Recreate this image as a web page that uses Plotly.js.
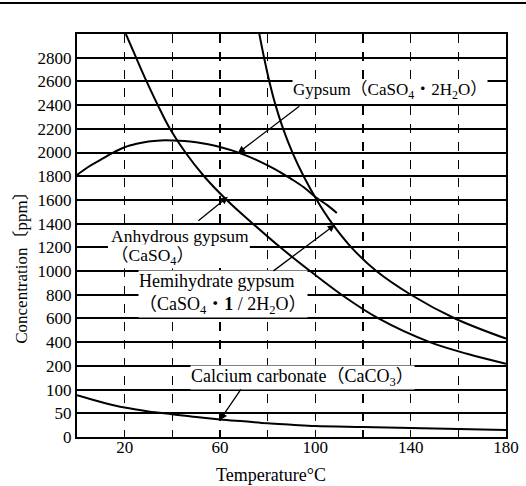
<!DOCTYPE html>
<html>
<head>
<meta charset="utf-8">
<script src="https://cdn.plot.ly/plotly-3.0.1.min.js"></script>
<style>html,body{margin:0;padding:0;background:#fff;}</style>
</head>
<body>
<div id="chart" style="width:526px;height:486px;"></div>
<script>
// ---- data (temperature °C, concentration ppm) ----
const gypsumT   = [0, 5, 10, 15, 20, 25, 30, 35, 40, 45, 50, 55, 60, 65, 70, 75, 80, 85, 90, 95, 100, 105, 109];
const gypsumPpm = [1810, 1882, 1940, 1998, 2045, 2074, 2094, 2102, 2102, 2098, 2087, 2070, 2047, 2018, 1982, 1940, 1891, 1837, 1776, 1709, 1625, 1556, 1490];

const anhydT   = [20.5, 24.8, 29.2, 33.9, 39.0, 45.5, 53.3, 62.8, 73.8, 85.3, 97.8, 111, 126.5, 148, 164, 180];
const anhydPpm = [3000, 2800, 2600, 2400, 2200, 2000, 1800, 1600, 1400, 1200, 1000, 800, 600, 400, 300, 218];

const hemiT   = [76.5, 78.5, 80.7, 83.3, 86.5, 90.4, 95.1, 100.6, 107.1, 115.1, 125.6, 140.1, 158.6, 180];
const hemiPpm = [3000, 2800, 2600, 2400, 2200, 2000, 1800, 1600, 1400, 1200, 1000, 800, 600, 430];

const caco3T   = [0, 10, 20, 30, 40, 50, 60, 70, 80, 90, 100, 120, 140, 160, 180];
const caco3Ppm = [88, 74, 62, 54, 48, 42, 37, 33, 29, 26, 23, 21, 19, 17, 15];

const yTickPpm = [0, 50, 100, 200, 400, 600, 800, 1000, 1200, 1400, 1600, 1800, 2000, 2200, 2400, 2600, 2800];

// piecewise scale of the printed axis: 0-50-100-200 then 200 per step
function toIdx(v) {
  if (v <= 50) return v / 50;
  if (v <= 100) return 1 + (v - 50) / 50;
  if (v <= 200) return 2 + (v - 100) / 100;
  return 3 + (v - 200) / 200;
}

const FONT = "'Liberation Serif', 'Times New Roman', 'Noto Sans CJK JP', serif";
const lineStyle = {color: '#000', width: 2, shape: 'spline', smoothing: 1};

function trace(t, p) {
  return {x: t, y: p.map(toIdx), mode: 'lines', line: lineStyle, hoverinfo: 'skip', showlegend: false};
}

const data = [
  trace(gypsumT, gypsumPpm),
  trace(anhydT, anhydPpm),
  trace(hemiT, hemiPpm),
  trace(caco3T, caco3Ppm)
];

function label(x, y, text, xanchor, size) {
  return {x: x, y: y, xref: 'x', yref: 'y', text: text, showarrow: false,
          xanchor: xanchor || 'center', yanchor: 'middle', align: 'left',
          bgcolor: '#fff', borderpad: 0,
          font: {family: FONT, size: size || 18, color: '#000'}};
}
function arrow(hx, hy, tx, ty) {
  return {x: hx, y: hy, ax: tx, ay: ty, xref: 'x', yref: 'y', axref: 'x', ayref: 'y',
          text: '', showarrow: true, arrowhead: 2, arrowsize: 1.1, arrowwidth: 1.3,
          arrowcolor: '#000', standoff: 0, startstandoff: 0};
}

const layout = {
  width: 526, height: 486,
  margin: {l: 77, r: 20, t: 34, b: 49},
  paper_bgcolor: '#fff', plot_bgcolor: '#fff',
  font: {family: FONT, size: 17, color: '#000'},
  xaxis: {
    range: [0, 180], tick0: 20, dtick: 40,
    showgrid: true, gridcolor: '#000', gridwidth: 1.2, griddash: 'dash',
    minor: {tick0: 0, dtick: 20, showgrid: true, gridcolor: '#000', gridwidth: 1.2, griddash: 'dash', ticks: ''},
    showline: true, linecolor: '#000', linewidth: 2, mirror: true,
    zeroline: false, ticks: '', ticklabelstandoff: -6,
    tickfont: {family: FONT, size: 17, color: '#000'}
  },
  yaxis: {
    range: [0, 17], tickvals: yTickPpm.map(toIdx), ticktext: yTickPpm.map(String),
    showgrid: true, gridcolor: '#000', gridwidth: 2,
    showline: true, linecolor: '#000', linewidth: 2, mirror: true,
    zeroline: false, ticks: '',
    tickfont: {family: FONT, size: 17, color: '#000'}
  },
  shapes: [
    {type: 'line', xref: 'paper', yref: 'paper', x0: -0.18, x1: 1.05, y0: 1.077, y1: 1.077,
     line: {color: '#000', width: 2}},
    // white backing behind the two-line "Anhydrous gypsum" label
    {type: 'rect', xref: 'x', yref: 'y', x0: 13, x1: 72.5, y0: 7.15, y1: 8.93, layer: 'above',
     fillcolor: '#fff', line: {width: 0}}
  ],
  annotations: [
    {xref: 'paper', yref: 'paper', x: -0.128, y: 0.43, text: 'Concentration〔ppm〕', textangle: -90,
     showarrow: false, xanchor: 'center', yanchor: 'middle',
     font: {family: FONT, size: 17, color: '#000'}},
    {xref: 'paper', yref: 'paper', x: 0.452, y: -0.094, text: 'Temperature°C',
     showarrow: false, xanchor: 'center', yanchor: 'middle',
     font: {family: FONT, size: 18, color: '#000'}},
    label(131.5, 14.6, 'Gypsum（CaSO<sub>4</sub>・2H<sub>2</sub>O）', 'center', 17),
    arrow(67.5, 11.98, 93.9, 14.0),
    label(13.8, 8.46, 'Anhydrous gypsum', 'left', 17.5),
    label(13.8, 7.6, '（CaSO<sub>4</sub>）', 'left', 17.5),
    arrow(63.3, 10.13, 50.3, 9.07),
    label(25.6, 6.03, 'Hemihydrate gypsum<br>（CaSO<sub>4</sub>・<b>1</b> / 2H<sub>2</sub>O）', 'left'),
    arrow(108.2, 8.95, 81.8, 6.96),
    label(94.5, 2.49, 'Calcium carbonate（CaCO<sub>3</sub>）'),
    arrow(60, 0.72, 69.2, 2.07)
  ]
};

Plotly.newPlot('chart', data, layout, {displayModeBar: false, staticPlot: true});
</script>
</body>
</html>
